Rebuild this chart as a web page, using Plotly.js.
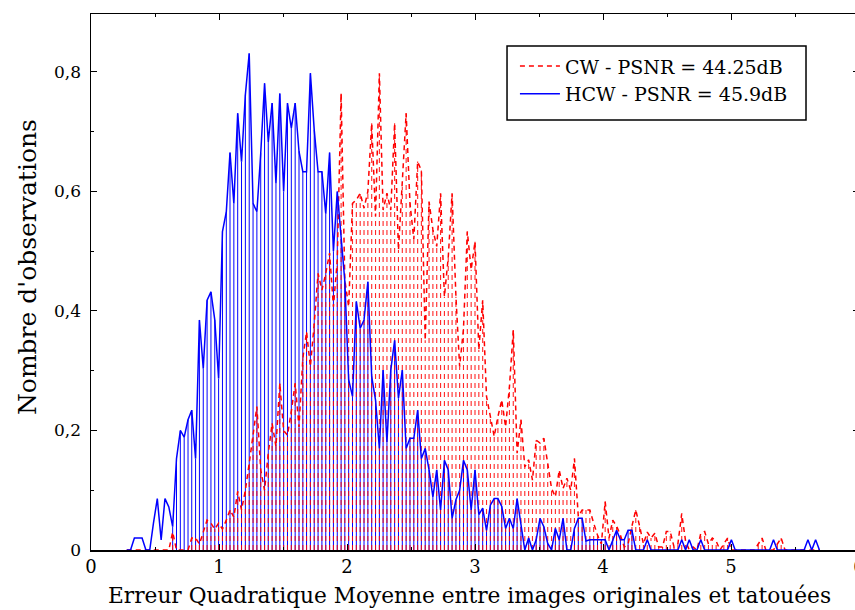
<!DOCTYPE html>
<html>
<head>
<meta charset="utf-8">
<script src="https://cdn.plot.ly/plotly-3.0.1.min.js"></script>
<style>
  html, body { margin: 0; padding: 0; overflow: hidden; background: #fff; }
  #chart { width: 880px; height: 610px; }
</style>
</head>
<body>
<div id="chart"></div>
<script>
// Bin centres (MSE values)
const mseBins = [
  0.279,0.309,0.339,0.369,0.399,0.429,0.459,0.488,0.518,0.548,
  0.578,0.608,0.638,0.668,0.698,0.728,0.758,0.787,0.817,0.847,
  0.877,0.907,0.937,0.967,0.997,1.027,1.057,1.086,1.116,1.146,
  1.176,1.206,1.236,1.266,1.296,1.326,1.356,1.385,1.415,1.445,
  1.475,1.505,1.535,1.565,1.595,1.625,1.655,1.684,1.714,1.744,
  1.774,1.804,1.834,1.864,1.894,1.924,1.954,1.983,2.013,2.043,
  2.073,2.103,2.133,2.163,2.193,2.223,2.253,2.282,2.312,2.342,
  2.372,2.402,2.432,2.462,2.492,2.522,2.552,2.581,2.611,2.641,
  2.671,2.701,2.731,2.761,2.791,2.821,2.851,2.880,2.910,2.940,
  2.970,3.000,3.030,3.060,3.090,3.120,3.150,3.179,3.209,3.239,
  3.269,3.299,3.329,3.359,3.389,3.419,3.449,3.478,3.508,3.538,
  3.568,3.598,3.628,3.658,3.688,3.718,3.748,3.777,3.807,3.837,
  3.867,3.897,3.927,3.957,3.987,4.017,4.047,4.076,4.106,4.136,
  4.166,4.196,4.226,4.256,4.286,4.316,4.346,4.375,4.405,4.435,
  4.465,4.495,4.525,4.555,4.585,4.615,4.645,4.674,4.704,4.734,
  4.764,4.794,4.824,4.854,4.884,4.914,4.944,4.973,5.003,5.033,
  5.063,5.093,5.123,5.153,5.183,5.213,5.243,5.272,5.302,5.332,
  5.362,5.392,5.422,5.452,5.482,5.512,5.542,5.571,5.601,5.631,
  5.661,5.691
];

// CW - PSNR = 44.25dB
const cwValues = [
  0,0,0,0,0,0,0,0,0,0,
  0,0,0.03,0,0,0,0,0.02,0.02,0.01,
  0.03,0.05,0.045,0.035,0.045,0.035,0.05,0.067,0.055,0.098,
  0.067,0.1,0.145,0.19,0.24,0.134,0.1,0.162,0.212,0.173,
  0.279,0.2,0.192,0.232,0.279,0.206,0.321,0.365,0.307,0.379,
  0.463,0.435,0.463,0.497,0.407,0.485,0.764,0.452,0.407,0.58,
  0.586,0.597,0.572,0.6,0.714,0.558,0.798,0.569,0.597,0.569,
  0.714,0.502,0.608,0.731,0.58,0.52,0.65,0.635,0.351,0.583,
  0.536,0.508,0.597,0.424,0.49,0.597,0.424,0.307,0.37,0.533,
  0.469,0.516,0.335,0.418,0.257,0.22,0.19,0.223,0.251,0.206,
  0.273,0.368,0.162,0.218,0.139,0.151,0.117,0.184,0.179,0.187,
  0.145,0.103,0.089,0.134,0.103,0.12,0.1,0.153,0.056,0.067,
  0.067,0.067,0.045,0.025,0.01,0.081,0.02,0.05,0.04,0.025,
  0.005,0.01,0.04,0.067,0.04,0.01,0.03,0.02,0.028,0.005,
  0.005,0.031,0.031,0.005,0.01,0.061,0.015,0,0.005,0,
  0.028,0.031,0.01,0.02,0.015,0,0.01,0.02,0,0,
  0,0,0,0,0,0.01,0.02,0,0,0,
  0.01,0.02,0,0,0,0,0,0,0,0,
  0,0
];

// HCW - PSNR = 45.9dB
const hcwValues = [
  0,0,0.02,0.02,0.02,0,0,0.045,0.086,0.017,
  0.086,0.072,0.039,0.153,0.2,0.189,0.218,0.234,0.153,0.385,
  0.304,0.418,0.432,0.385,0.287,0.533,0.566,0.665,0.58,0.731,
  0.65,0.762,0.831,0.58,0.566,0.664,0.781,0.683,0.748,0.614,
  0.764,0.6,0.748,0.706,0.748,0.667,0.633,0.633,0.798,0.703,
  0.633,0.633,0.563,0.665,0.5,0.6,0.52,0.45,0.285,0.257,
  0.416,0.371,0.385,0.449,0.29,0.251,0.17,0.301,0.181,0.301,
  0.351,0.254,0.301,0.17,0.187,0.187,0.234,0.153,0.17,0.134,
  0.089,0.134,0.067,0.15,0.134,0.053,0.084,0.1,0.15,0.134,
  0.067,0.134,0.059,0.07,0.033,0.075,0.086,0.086,0.073,0.036,
  0.053,0.036,0.086,0.039,0,0.02,0,0.017,0.053,0.039,
  0.011,0,0.036,0.017,0.053,0,0,0.036,0.053,0.053,
  0.015,0.017,0.017,0.017,0.017,0.017,0,0.017,0.033,0.017,
  0.017,0.033,0.033,0,0,0,0.017,0,0,0,
  0,0,0,0,0,0.017,0,0.017,0,0,
  0.017,0,0,0,0,0,0,0,0.017,0,
  0,0,0,0,0,0,0,0,0,0.017,
  0,0,0,0,0,0,0,0,0.017,0,
  0.017,0
];

const seriesNames = ['CW - PSNR = 44.25dB', 'HCW - PSNR = 45.9dB'];
const xTitle = 'Erreur Quadratique Moyenne entre images originales et tatouées';
const yTitle = "Nombre d'observations";
const xTickValues = [0, 1, 2, 3, 4, 5, 6];
const yTickValues = [0, 0.2, 0.4, 0.6, 0.8];

// drop lines (vertical segments from 0 to each value), limited to an x window
function dropLines(xs, ys, xmin, xmax) {
  const dx = [], dy = [];
  for (let i = 0; i < xs.length; i++) {
    if (ys[i] > 0 && xs[i] >= xmin && xs[i] <= xmax) {
      dx.push(xs[i], xs[i], null);
      dy.push(0, ys[i], null);
    }
  }
  return {dx, dy};
}

const cwDrops = dropLines(mseBins, cwValues, -Infinity, Infinity);
const hcwDrops = dropLines(mseBins, hcwValues, 0.62, 4.24);

const FONT = 'DejaVu Serif, serif';
const RED = 'rgb(255,0,0)';
const BLUE = 'rgb(0,0,255)';

const traces = [
  {x: hcwDrops.dx, y: hcwDrops.dy, type: 'scatter', mode: 'lines', showlegend: false,
   hoverinfo: 'skip', line: {color: BLUE, width: 1}},
  {x: cwDrops.dx, y: cwDrops.dy, type: 'scatter', mode: 'lines', showlegend: false,
   hoverinfo: 'skip', line: {color: 'rgba(255,0,0,0.85)', width: 1.1, dash: '5px,4px'}},
  {x: mseBins, y: cwValues, type: 'scatter', mode: 'lines', name: seriesNames[0],
   line: {color: RED, width: 1.5, dash: '5px,4px'}},
  {x: mseBins, y: hcwValues, type: 'scatter', mode: 'lines', name: seriesNames[1],
   line: {color: BLUE, width: 1.5}}
];

const layout = {
  width: 880, height: 610,
  margin: {l: 91, r: 21, t: 14, b: 60},
  paper_bgcolor: '#fff', plot_bgcolor: '#fff',
  separators: ', ',
  font: {family: FONT, size: 18, color: '#000'},
  showlegend: true,
  legend: {
    x: 0.552, y: 0.938, xanchor: 'left', yanchor: 'top',
    bgcolor: 'rgba(0,0,0,0)', borderwidth: 0,
    font: {family: FONT, size: 19, color: '#000'},
    itemwidth: 40, tracegroupgap: 0
  },
  shapes: [
    {type: 'rect', xref: 'paper', yref: 'paper', x0: 0.5417, x1: 0.931, y0: 0.8022, y1: 0.9403,
     line: {color: '#000', width: 1.5}, fillcolor: 'rgba(0,0,0,0)', layer: 'below'}
  ],
  annotations: [
    {text: yTitle, xref: 'paper', yref: 'paper', x: -0.082, y: 0.528,
     xanchor: 'center', yanchor: 'middle', textangle: -90, showarrow: false,
     font: {family: FONT, size: 25, color: '#000'}},
    {text: xTitle, xref: 'paper', yref: 'paper', x: 0.4928, y: -0.0858,
     xanchor: 'center', yanchor: 'middle', showarrow: false,
     font: {family: FONT, size: 21.7, color: '#000'}}
  ],
  xaxis: {
    range: [0, 6], tickvals: xTickValues, ticks: 'inside', ticklen: 6, tickwidth: 1,
    tickcolor: '#000', showgrid: false, zeroline: false,
    showline: true, linecolor: '#000', linewidth: 1.5, mirror: 'allticks',
    minor: {dtick: 0.5, ticks: 'inside', ticklen: 3, tickcolor: '#000', showgrid: false},
    tickfont: {family: FONT, size: 18, color: '#000'}
  },
  yaxis: {
    range: [0, 0.897], tickvals: yTickValues, ticks: 'inside', ticklen: 6, tickwidth: 1,
    tickcolor: '#000', showgrid: false, zeroline: false,
    showline: true, linecolor: '#000', linewidth: 1.5, mirror: 'allticks',
    minor: {dtick: 0.1, ticks: 'inside', ticklen: 3, tickcolor: '#000', showgrid: false},
    tickfont: {family: FONT, size: 17, color: '#000'}, ticklabelstandoff: 5
  }
};

Plotly.newPlot('chart', traces, layout, {displayModeBar: false, staticPlot: true});
</script>
</body>
</html>
